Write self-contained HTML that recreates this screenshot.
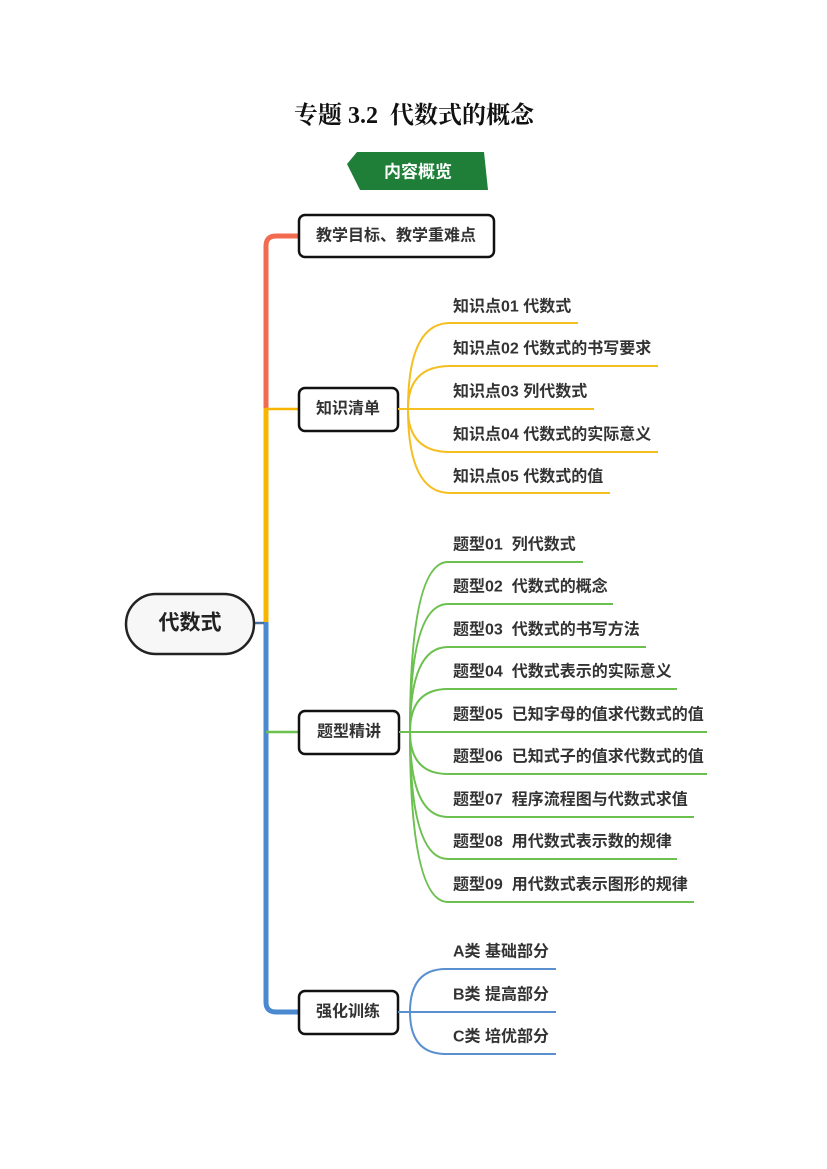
<!DOCTYPE html>
<html>
<head>
<meta charset="utf-8">
<style>
  html,body{margin:0;padding:0;background:#fff;}
  body{width:827px;height:1169px;overflow:hidden;}
  svg{display:block;}
  .t{font-family:"Liberation Sans","Noto Sans CJK SC",sans-serif;font-weight:bold;fill:#333;font-size:16px;white-space:pre;}
  .b{font-family:"Liberation Sans","Noto Sans CJK SC",sans-serif;font-weight:bold;fill:#333;font-size:16px;}
</style>
</head>
<body>
<svg width="827" height="1169" viewBox="0 0 827 1169" xmlns="http://www.w3.org/2000/svg">
  <!-- Title -->
  <text x="414" y="123" text-anchor="middle" font-size="24" fill="#111" style="white-space:pre"><tspan font-family="'Noto Serif CJK SC',serif" font-weight="bold">专题 </tspan><tspan font-family="'Liberation Serif',serif" font-weight="bold">3.2</tspan><tspan font-family="'Noto Serif CJK SC',serif" font-weight="bold">  代数式的概念</tspan></text>

  <!-- Banner -->
  <polygon points="357,152 484,152 488,190 360,190 347,164" fill="#1f7f39"/>
  <text x="418" y="172" text-anchor="middle" dominant-baseline="central" font-family="'Liberation Sans','Noto Sans CJK SC',sans-serif" font-weight="bold" font-size="17" fill="#fff">内容概览</text>

  <!-- Trunk -->
  <path d="M266 410 L266 246 Q266 236 276 236 L299 236" fill="none" stroke="#f26b50" stroke-width="5" stroke-linecap="butt"/>
  <path d="M266 408 L266 624" fill="none" stroke="#f7b500" stroke-width="5"/>
  <path d="M266 622 L266 1002 Q266 1012 276 1012 L299 1012" fill="none" stroke="#4a88cf" stroke-width="5"/>
  <!-- central connector -->
  <line x1="254" y1="623" x2="264" y2="623" stroke="#4a6f9a" stroke-width="2.5"/>

  <!-- branch connectors -->
  <line x1="266" y1="409" x2="299" y2="409" stroke="#f7b500" stroke-width="2.5"/>
  <line x1="266" y1="732" x2="299" y2="732" stroke="#6cc04f" stroke-width="2.5"/>

  <!-- Central node -->
  <rect x="126" y="594" width="128" height="60" rx="30" ry="30" fill="#f7f7f7" stroke="#222" stroke-width="2.5"/>
  <text x="190" y="623" text-anchor="middle" dominant-baseline="central" class="b" style="font-size:21px;fill:#222">代数式</text>

  <!-- Boxes -->
  <rect x="299" y="215" width="195" height="42" rx="6" fill="#fff" stroke="#111" stroke-width="2.5"/>
  <text x="396" y="236" text-anchor="middle" dominant-baseline="central" class="b">教学目标、教学重难点</text>

  <rect x="299" y="388" width="99" height="43" rx="6" fill="#fff" stroke="#111" stroke-width="2.5"/>
  <text x="348" y="409" text-anchor="middle" dominant-baseline="central" class="b">知识清单</text>

  <rect x="299" y="711" width="100" height="43" rx="6" fill="#fff" stroke="#111" stroke-width="2.5"/>
  <text x="349" y="732" text-anchor="middle" dominant-baseline="central" class="b">题型精讲</text>

  <rect x="299" y="991" width="99" height="43" rx="6" fill="#fff" stroke="#111" stroke-width="2.5"/>
  <text x="348" y="1012" text-anchor="middle" dominant-baseline="central" class="b">强化训练</text>

  <!-- Yellow subtree -->
  <g fill="none" stroke="#f5bf22" stroke-width="2">
    <line x1="398" y1="409" x2="408" y2="409"/>
    <path d="M408 409 Q408 323 450 323 L578 323"/>
    <path d="M408 409 Q408 366 450 366 L658 366"/>
    <path d="M408 409 L594 409"/>
    <path d="M408 409 Q408 452 450 452 L658 452"/>
    <path d="M408 409 Q408 493 450 493 L610 493"/>
  </g>
  <text x="453" y="307" dominant-baseline="central" class="t">知识点01 代数式</text>
  <text x="453" y="349" dominant-baseline="central" class="t">知识点02 代数式的书写要求</text>
  <text x="453" y="392" dominant-baseline="central" class="t">知识点03 列代数式</text>
  <text x="453" y="435" dominant-baseline="central" class="t">知识点04 代数式的实际意义</text>
  <text x="453" y="477" dominant-baseline="central" class="t">知识点05 代数式的值</text>

  <!-- Green subtree -->
  <g fill="none" stroke="#6cc04f" stroke-width="2">
    <line x1="399" y1="732" x2="410" y2="732"/>
    <path d="M410 732 Q410 562 448 562 L583 562"/>
    <path d="M410 732 Q410 604 448 604 L613 604"/>
    <path d="M410 732 Q410 647 448 647 L646 647"/>
    <path d="M410 732 Q410 689 448 689 L677 689"/>
    <path d="M410 732 L707 732"/>
    <path d="M410 732 Q410 774 448 774 L707 774"/>
    <path d="M410 732 Q410 817 448 817 L694 817"/>
    <path d="M410 732 Q410 859 448 859 L677 859"/>
    <path d="M410 732 Q410 902 448 902 L694 902"/>
  </g>
  <text x="453" y="545" dominant-baseline="central" class="t">题型01  列代数式</text>
  <text x="453" y="587" dominant-baseline="central" class="t">题型02  代数式的概念</text>
  <text x="453" y="630" dominant-baseline="central" class="t">题型03  代数式的书写方法</text>
  <text x="453" y="672" dominant-baseline="central" class="t">题型04  代数式表示的实际意义</text>
  <text x="453" y="715" dominant-baseline="central" class="t">题型05  已知字母的值求代数式的值</text>
  <text x="453" y="757" dominant-baseline="central" class="t">题型06  已知式子的值求代数式的值</text>
  <text x="453" y="800" dominant-baseline="central" class="t">题型07  程序流程图与代数式求值</text>
  <text x="453" y="842" dominant-baseline="central" class="t">题型08  用代数式表示数的规律</text>
  <text x="453" y="885" dominant-baseline="central" class="t">题型09  用代数式表示图形的规律</text>

  <!-- Blue subtree -->
  <g fill="none" stroke="#5a8fd0" stroke-width="2">
    <line x1="398" y1="1012" x2="410" y2="1012"/>
    <path d="M410 1012 Q410 969 446 969 L556 969"/>
    <path d="M410 1012 L556 1012"/>
    <path d="M410 1012 Q410 1054 446 1054 L556 1054"/>
  </g>
  <text x="453" y="952" dominant-baseline="central" class="t">A类 基础部分</text>
  <text x="453" y="995" dominant-baseline="central" class="t">B类 提高部分</text>
  <text x="453" y="1037" dominant-baseline="central" class="t">C类 培优部分</text>
</svg>
</body>
</html>
